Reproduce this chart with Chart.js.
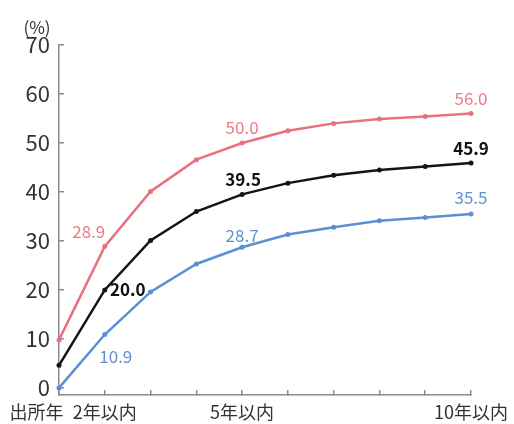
<!DOCTYPE html>
<html>
<head>
<meta charset="utf-8">
<script src="https://cdn.jsdelivr.net/npm/chart.js@4/dist/chart.umd.min.js"></script>
<style>
  html, body { margin: 0; padding: 0; background: #ffffff; }
  #wrap { width: 514px; height: 424px; }
</style>
</head>
<body>
<div id="wrap"><canvas id="c" width="514" height="424"></canvas></div>
<script>
// Categories: year of release through 10 years after
const categories = ['出所年', '2年以内', '3年以内', '4年以内', '5年以内',
                    '6年以内', '7年以内', '8年以内', '9年以内', '10年以内'];
// Categories that carry a visible axis label
const labeledCategories = [0, 1, 4, 9];

// Cumulative rates (%)
const seriesRed   = [9.8, 28.9, 40.1, 46.6, 50.0, 52.5, 54.0, 54.9, 55.4, 56.0];
const seriesBlack = [4.6, 20.0, 30.1, 36.0, 39.5, 41.8, 43.4, 44.5, 45.2, 45.9];
const seriesBlue  = [0.0, 10.9, 19.6, 25.3, 28.7, 31.3, 32.8, 34.1, 34.8, 35.5];

const yTicks = [0, 10, 20, 30, 40, 50, 60, 70];

// Indices whose values are printed next to the line
const valueLabelIndices = [1, 4, 9];

const FONT = '"Noto Sans CJK JP", "Noto Sans", sans-serif';
const RED = '#e9707e';
const BLACK = '#141414';
const BLUE = '#5b8fd4';
const AXIS = '#8c8c8c';
const TEXT = '#333333';

// Text offsets (dx, dy) of value labels relative to their points
const labelStyles = [
  { color: '#ec7a87', bold: false, offsets: [[-16, -15], [0, -15], [0, -15]] },
  { color: '#111111', bold: true,  offsets: [[23, 0],    [1, -15], [0, -15]] },
  { color: '#6190d2', bold: false, offsets: [[11, 22],   [0, -12], [0, -16]] }
];

const valueLabels = {
  id: 'valueLabels',
  afterDatasetsDraw(chart) {
    const ctx = chart.ctx;
    ctx.save();
    ctx.textAlign = 'center';
    ctx.textBaseline = 'middle';
    chart.data.datasets.forEach((ds, di) => {
      const meta = chart.getDatasetMeta(di);
      const st = labelStyles[di];
      ctx.fillStyle = st.color;
      ctx.font = (st.bold ? 'bold ' : '') + '17px ' + FONT;
      valueLabelIndices.forEach((idx, k) => {
        const pt = meta.data[idx];
        const [dx, dy] = st.offsets[k];
        ctx.fillText(ds.data[idx].toFixed(1), pt.x + dx, pt.y + dy);
      });
    });
    ctx.restore();
  }
};

const unitLabel = {
  id: 'unitLabel',
  afterDraw(chart) {
    const ctx = chart.ctx;
    const area = chart.chartArea;
    ctx.save();
    ctx.fillStyle = TEXT;
    ctx.font = '17px ' + FONT;
    ctx.textAlign = 'center';
    ctx.textBaseline = 'middle';
    ctx.fillText('(%)', area.left - 22, area.top - 17);
    ctx.restore();
  }
};

function lineDataset(data, color) {
  return {
    data: data,
    borderColor: color,
    backgroundColor: color,
    borderWidth: 2.5,
    pointRadius: 2.5,
    pointHoverRadius: 2.5,
    pointBorderWidth: 0,
    tension: 0,
    fill: false,
    clip: false
  };
}

new Chart(document.getElementById('c'), {
  type: 'line',
  data: {
    labels: categories,
    datasets: [
      lineDataset(seriesRed, RED),
      lineDataset(seriesBlack, BLACK),
      lineDataset(seriesBlue, BLUE)
    ]
  },
  options: {
    responsive: false,
    animation: false,
    devicePixelRatio: 1,
    layout: { padding: { left: 0, top: 45, right: 43, bottom: 0 } },
    plugins: {
      legend: { display: false },
      tooltip: { enabled: false }
    },
    scales: {
      x: {
        type: 'category',
        offset: false,
        border: { display: true, color: AXIS, width: 1.5 },
        grid: {
          drawOnChartArea: false,
          drawTicks: true,
          tickLength: -5,
          color: AXIS,
          lineWidth: 1.5
        },
        ticks: {
          autoSkip: false,
          maxRotation: 0,
          minRotation: 0,
          padding: 11,
          color: TEXT,
          font: { family: FONT, size: 18 },
          callback(value, index) {
            if (!labeledCategories.includes(index)) return '';
            // first label sits to the left of its tick
            return index === 0 ? categories[index] + '\u3000\u3000\u2002' : categories[index];
          }
        },
        afterFit(scale) {
          scale.height = 29;
          // labels may overhang the plot edges without shrinking it
          scale.paddingLeft = 0;
          scale.paddingRight = 0;
        }
      },
      y: {
        min: -1.45,
        max: 70,
        border: { display: true, color: AXIS, width: 1.5 },
        grid: {
          drawOnChartArea: false,
          drawTicks: true,
          tickLength: -5,
          color: AXIS,
          lineWidth: 1.5
        },
        ticks: {
          padding: 14,
          color: TEXT,
          font: { family: FONT, size: 22 }
        },
        afterBuildTicks(scale) {
          scale.ticks = yTicks.map(v => ({ value: v }));
        },
        afterFit(scale) {
          scale.width = 59;
          scale.paddingTop = 0;
          scale.paddingBottom = 0;
        }
      }
    }
  },
  plugins: [valueLabels, unitLabel]
});
</script>
</body>
</html>
